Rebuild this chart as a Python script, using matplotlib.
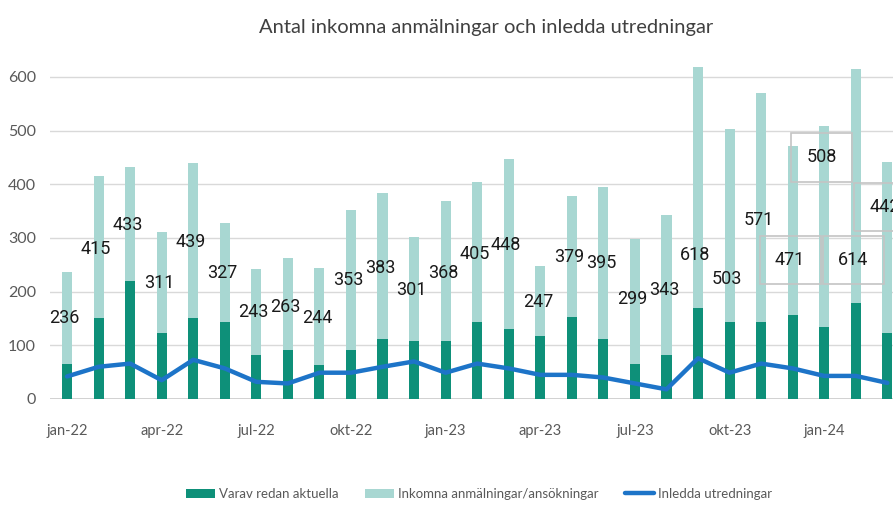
import matplotlib.pyplot as plt


months = ['jan-22', 'feb-22', 'mar-22', 'apr-22', 'maj-22', 'jun-22', 'jul-22', 'aug-22', 'sep-22',
          'okt-22', 'nov-22', 'dec-22', 'jan-23', 'feb-23', 'mar-23', 'apr-23', 'maj-23', 'jun-23',
          'jul-23', 'aug-23', 'sep-23', 'okt-23', 'nov-23', 'dec-23', 'jan-24', 'feb-24', 'mar-24']

inkomna = [236, 415, 433, 311, 439, 327, 243, 263, 244, 353, 383, 301, 368, 405,
           448, 247, 379, 395, 299, 343, 618, 503, 571, 471, 508, 614, 442]

aktuella = [65, 150, 220, 123, 150, 144, 82, 91, 63, 91, 111, 108, 108, 144,
            130, 117, 153, 111, 66, 82, 169, 144, 144, 156, 135, 179, 123]

inledda = [42, 60, 66, 35, 73, 57, 32, 29, 49, 49, 60, 70, 49, 66,
           57, 45, 45, 40, 29, 18, 76, 49, 66, 57, 43, 43, 30]

# where the value labels sit
label_y = [150, 279, 324, 216, 292, 235, 162, 171, 150, 221, 244, 203, 235, 271,
           287, 181, 265, 253, 187, 203, 268, 223, 333, 259, 450, 259, 358]
boxed = [23, 24, 25, 26]

tick_idx = [0, 3, 6, 9, 12, 15, 18, 21, 24]

dark = '#0e9079'
light = '#a8d7d2'
blue = '#1d74c8'
grey = '#595959'

plt.rcParams['font.family'] = ['Lato', 'DejaVu Sans']

fig = plt.figure(figsize=(8.93, 5.08), dpi=100)
ax = fig.add_axes([50 / 893, 1 - 399 / 508, 843 / 893, (399 - 55.5) / 508])

x = list(range(len(months)))
w = 0.32
b_light = ax.bar(x, inkomna, width=w, color=light, zorder=3)
b_dark = ax.bar(x, aktuella, width=w, color=dark, zorder=4)
ln, = ax.plot(x, inledda, color=blue, lw=3.2, zorder=5, solid_joinstyle='round',
              solid_capstyle='round')

for i in x:
    box = None
    if i in boxed:
        box = dict(boxstyle='square,pad=0.85', fc='none', ec='#c4c4c4', lw=1.2)
    ax.text(i - 0.08, label_y[i], str(inkomna[i]), fontsize=13, color='#1a1a1a', ha='center',
            va='center', family='Roboto', zorder=6, bbox=box)

ax.set_xlim(-0.54, 26.18)
ax.set_ylim(0, 640)
ax.set_yticks(range(0, 700, 100))
ax.set_xticks(tick_idx)
ax.set_xticklabels([months[i] for i in tick_idx])
ax.tick_params(axis='both', length=0, labelsize=10.5, labelcolor=grey)
ax.tick_params(axis='y', pad=10, labelsize=11.5)
ax.tick_params(axis='x', pad=18)
ax.grid(axis='y', color='#d9d9d9', lw=1, zorder=0)
ax.axhline(0, color='#c8c8c8', lw=1.2, zorder=1)
for s in ax.spines.values():
    s.set_visible(False)

fig.text(486 / 893, 1 - 27 / 508, 'Antal inkomna anmälningar och inledda utredningar',
         ha='center', va='center', fontsize=14.5, color='#404040')

fig.legend([b_dark, b_light, ln],
           ['Varav redan aktuella', 'Inkomna anmälningar/ansökningar', 'Inledda utredningar'],
           loc='center', bbox_to_anchor=(479 / 893, 1 - 494 / 508), ncol=3, frameon=False,
           fontsize=9.5, labelcolor=grey, handlelength=2.2, handleheight=0.7,
           handletextpad=0.3, columnspacing=2.0)

fig.savefig('out.png', dpi=100)
